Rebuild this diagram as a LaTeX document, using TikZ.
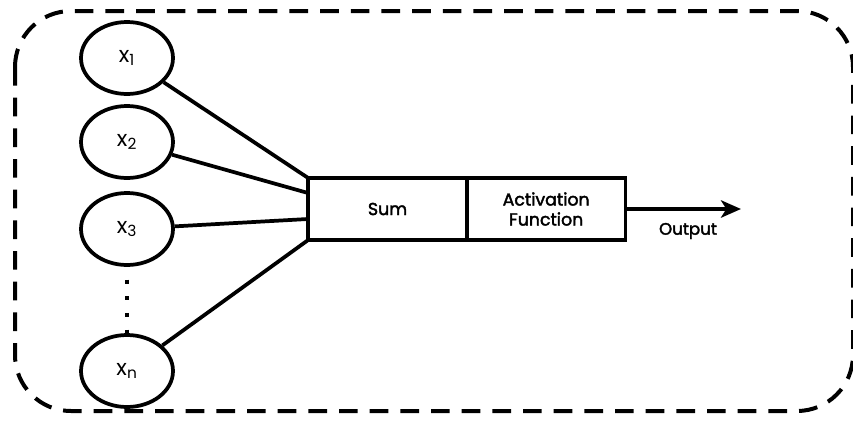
\documentclass[tikz,border=0pt]{standalone}
\usepackage{fontspec}
\setmainfont{Poppins}
\newfontfamily\medfont{Poppins}[FakeBold=2.2]
\usetikzlibrary{positioning, shapes.geometric, arrows.meta}

\begin{document}
\begin{tikzpicture}[x=0.75pt, y=-0.75pt, line width=2.8pt,
        input/.style={ellipse, draw, minimum width=69pt, minimum height=54pt, inner sep=0pt, font=\fontsize{16.5}{18}\selectfont},
        block/.style={rectangle, draw, outer sep=0pt, minimum width=119pt, minimum height=46.5pt, align=center, font=\medfont\fontsize{13}{15}\selectfont}]
    \useasboundingbox (0,0) rectangle (853,421);
    % outer frame
    \draw[line width=3pt, dash pattern=on 14pt off 9pt, rounded corners=42pt] (15,11) rectangle (853,411);

    \node[input] (x1) at (127,58) {x\textsubscript{1}};
    \node[input] (x2) at (127,142) {x\textsubscript{2}};
    \node[input] (x3) at (127,229) {x\textsubscript{3}};
    \node[input] (xn) at (127,371) {x\textsubscript{n}};

    \node[block] (sum) at (387.5,209) {Sum};
    \node[block, right=0pt of sum] (act) {Activation\\Function};

    \coordinate (in2) at (308,193);
    \coordinate (in3) at (308,219);
    \coordinate (out) at (741,209);

    \draw (x1) -- (sum.north west);
    \draw (x2) -- (in2);
    \draw (x3) -- (in3);
    \draw (xn) -- (sum.south west);
    \draw[line width=3pt, dash pattern=on 3pt off 9.5pt, dash phase=3pt] (x3) -- (xn);

    \draw[-{Stealth[length=15pt, width=13pt, inset=4pt]}] (act.east) -- (out);
    \node[font=\medfont\fontsize{12.5}{14}\selectfont] (outlbl) at (688,231) {Output};
\end{tikzpicture}
\end{document}
